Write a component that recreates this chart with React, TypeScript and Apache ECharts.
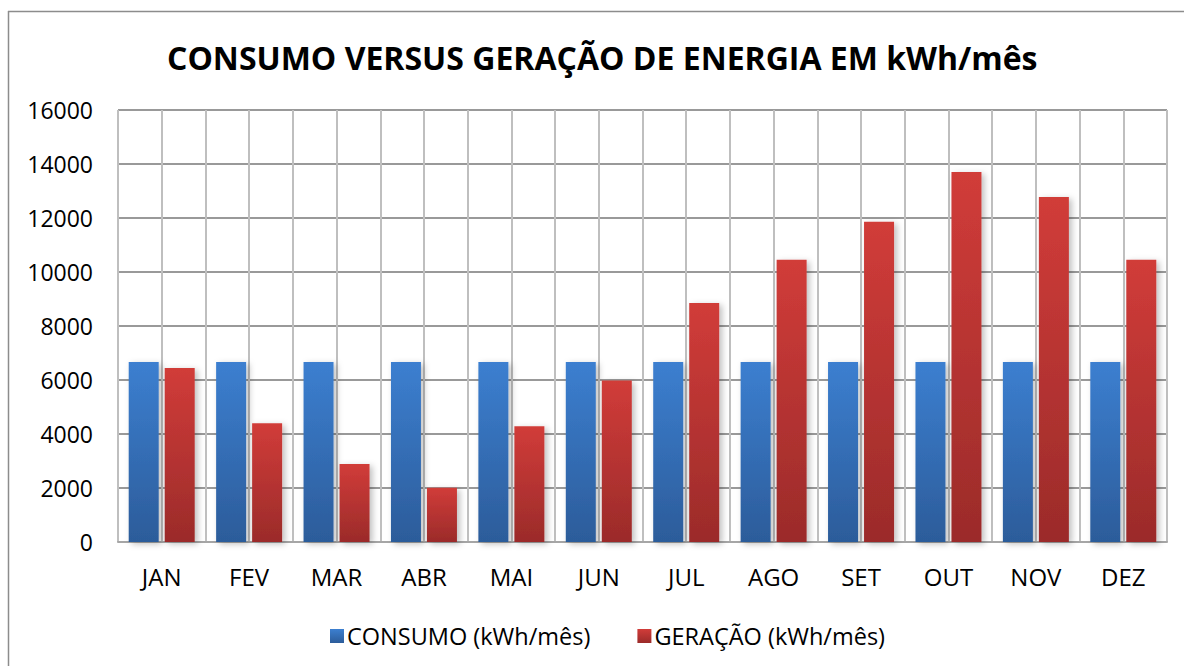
import React, { useEffect, useRef } from "react";
import * as echarts from "echarts";

const months = ["JAN", "FEV", "MAR", "ABR", "MAI", "JUN", "JUL", "AGO", "SET", "OUT", "NOV", "DEZ"];
const consumo = [6670, 6670, 6670, 6670, 6670, 6670, 6670, 6670, 6670, 6670, 6670, 6670];
const geracao = [6440, 4400, 2890, 2010, 4290, 5980, 8850, 10450, 11860, 13700, 12780, 10450];
const seriesNames = ["CONSUMO (kWh/mês)", "GERAÇÃO (kWh/mês)"];
const titleText = "CONSUMO VERSUS GERAÇÃO DE ENERGIA EM kWh/mês";

const FONT = "Open Sans";

function grad(top: string, bottom: string) {
  return new echarts.graphic.LinearGradient(0, 0, 0, 1, [
    { offset: 0, color: top },
    { offset: 1, color: bottom },
  ]);
}

export default function App() {
  const ref = useRef<HTMLDivElement>(null);
  useEffect(() => {
    if (!ref.current) return;
    const chart = echarts.init(ref.current, undefined, { renderer: "svg" });
    chart.setOption({
      animation: false,
      backgroundColor: "#ffffff",
      title: {
        text: titleText,
        left: 162,
        top: 36,
        textStyle: { fontFamily: FONT, fontWeight: "bold", fontSize: 32, color: "#000" },
      },
      graphic: [
        { type: "line", shape: { x1: 8, y1: 11.5, x2: 1184, y2: 11.5 }, style: { stroke: "#8c8c8c", lineWidth: 1.5 } },
        { type: "line", shape: { x1: 8.5, y1: 11, x2: 8.5, y2: 666 }, style: { stroke: "#8c8c8c", lineWidth: 1.5 } },
      ],
      legend: {
        top: 619,
        left: 325,
        itemWidth: 14,
        itemHeight: 14,
        itemGap: 47,
        icon: "rect",
        textStyle: { fontFamily: FONT, fontSize: 23.5, color: "#000", padding: [0, 0, 0, -2] },
        data: seriesNames,
      },
      grid: { left: 118, right: 17, top: 110, bottom: 124, containLabel: false },
      xAxis: [
        {
          type: "category",
          data: months,
          axisLine: { lineStyle: { color: "#a6a6a6", width: 2 } },
          axisTick: { show: false },
          axisLabel: { fontFamily: FONT, fontSize: 24, color: "#000", margin: 22 },
          splitLine: { show: false },
        },
        {
          type: "value",
          min: 0,
          max: 24,
          interval: 1,
          show: true,
          axisLine: { show: false },
          axisTick: { show: false },
          axisLabel: { show: false },
          splitLine: { show: true, lineStyle: { color: "#bfbfbf", width: 2 } },
        },
      ],
      yAxis: {
        type: "value",
        min: 0,
        max: 16000,
        interval: 2000,
        axisLine: { show: false },
        axisTick: { show: false },
        axisLabel: {
          fontFamily: FONT,
          fontSize: 23,
          color: "#000",
          margin: 25,
          formatter: (v: number) => String(v),
        },
        splitLine: { lineStyle: { color: "#999999", width: 2 } },
      },
      series: [
        {
          name: seriesNames[0],
          type: "bar",
          xAxisIndex: 0,
          data: consumo,
          barWidth: 30,
          barGap: "20%",
          itemStyle: {
            color: grad("#3c7fd0", "#2c5c9a"),
            shadowColor: "rgba(0,0,0,0.25)",
            shadowBlur: 6,
            shadowOffsetX: 3,
            shadowOffsetY: 2,
          },
        },
        {
          name: seriesNames[1],
          type: "bar",
          xAxisIndex: 0,
          data: geracao,
          barWidth: 30,
          barGap: "20%",
          itemStyle: {
            color: grad("#d13c39", "#9b2b2a"),
            shadowColor: "rgba(0,0,0,0.25)",
            shadowBlur: 6,
            shadowOffsetX: 3,
            shadowOffsetY: 2,
          },
        },
      ],
    });
    return () => chart.dispose();
  }, []);
  return <div ref={ref} style={{ width: 1184, height: 666, position: "absolute", left: 0, top: 0 }} />;
}
